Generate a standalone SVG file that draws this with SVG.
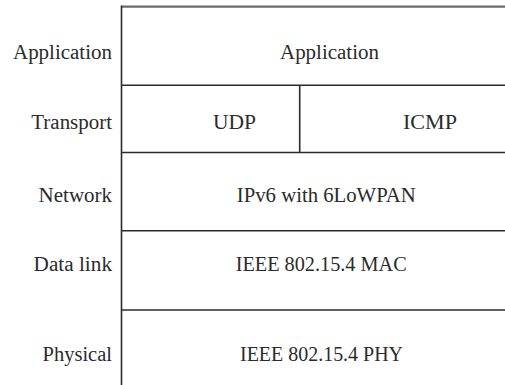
<svg xmlns="http://www.w3.org/2000/svg" width="505" height="385" viewBox="0 0 505 385">
  <style>
    .lbl { text-anchor: end; }
    .mid { text-anchor: middle; }
    .rule { stroke: #2b2b2b; stroke-width: 1.6; fill: none; }
    .top { stroke: #6a6a6a; stroke-width: 2.2; fill: none; }
  </style>
  <rect width="505" height="385" fill="#ffffff"/>

  <!-- layer names on the left -->
  <g id="layer-names" font-family="Liberation Serif, serif" font-size="20.5" fill="#2b2b2b">
    <text class="lbl" x="112" y="59.3" textLength="99" lengthAdjust="spacingAndGlyphs">Application</text>
    <text class="lbl" x="112" y="129.3" textLength="80.7" lengthAdjust="spacingAndGlyphs">Transport</text>
    <text class="lbl" x="112" y="201.7" textLength="73.4" lengthAdjust="spacingAndGlyphs">Network</text>
    <text class="lbl" x="112" y="270.7" textLength="78.4" lengthAdjust="spacingAndGlyphs">Data link</text>
    <text class="lbl" x="112" y="360.7" textLength="69.4" lengthAdjust="spacingAndGlyphs">Physical</text>
  </g>

  <!-- stack grid -->
  <g id="connectors">
    <line class="top" x1="121.5" y1="6.6" x2="505" y2="6.6"/>
    <line class="rule" x1="121.5" y1="5.5" x2="121.5" y2="385"/>
    <line class="rule" x1="121.5" y1="85.3" x2="505" y2="85.3"/>
    <line class="rule" x1="121.5" y1="152.5" x2="505" y2="152.5"/>
    <line class="rule" x1="121.5" y1="230.8" x2="505" y2="230.8"/>
    <line class="rule" x1="121.5" y1="310" x2="505" y2="310"/>
    <line class="rule" x1="299.7" y1="85.3" x2="299.7" y2="152.5"/>
  </g>

  <!-- protocol cells -->
  <g id="cells" font-family="Liberation Serif, serif" font-size="20.5" fill="#2b2b2b">
    <g id="application">
      <text class="mid" x="329.5" y="59.3" textLength="99" lengthAdjust="spacingAndGlyphs">Application</text>
    </g>
    <g id="udp">
      <text class="mid" x="234.5" y="129.3" textLength="43" lengthAdjust="spacingAndGlyphs">UDP</text>
    </g>
    <g id="icmp">
      <text class="mid" x="430" y="129.3" textLength="54" lengthAdjust="spacingAndGlyphs">ICMP</text>
    </g>
    <g id="ipv6">
      <text class="mid" x="326.3" y="201.7" textLength="179" lengthAdjust="spacingAndGlyphs">IPv6 with 6LoWPAN</text>
    </g>
    <g id="mac">
      <text class="mid" x="321.2" y="270.7" textLength="171" lengthAdjust="spacingAndGlyphs">IEEE 802.15.4 MAC</text>
    </g>
    <g id="phy">
      <text class="mid" x="321.5" y="360.7" textLength="163" lengthAdjust="spacingAndGlyphs">IEEE 802.15.4 PHY</text>
    </g>
  </g>
</svg>
